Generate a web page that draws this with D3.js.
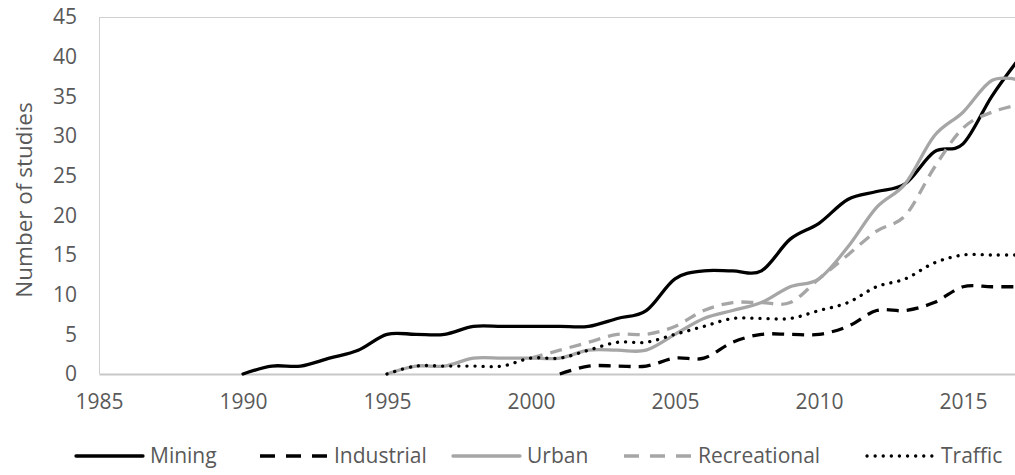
<!DOCTYPE html>
<html><head><meta charset="utf-8">
<script src="https://cdn.jsdelivr.net/npm/d3@7"></script>
<style>body{margin:0;background:#fff;}svg{display:block;font-family:"Open Sans",sans-serif;}</style>
</head><body><svg id="c" width="1015" height="475"></svg>
<script>
const years = d3.range(1990, 2018);
const mining       = [0,1,1,2,3,5,5,5,6,6,6,6,6,7,8,12,13,13,13,17,19,22,23,24,28,29,35,40];
const industrial   = [null,null,null,null,null,null,null,null,null,null,null,0,1,1,1,2,2,4,5,5,5,6,8,8,9,11,11,11];
const urban        = [null,null,null,null,null,0,1,1,2,2,2,2,3,3,3,5,7,8,9,11,12,16,21,24,30,33,37,37];
const recreational = [null,null,null,null,null,null,null,null,null,null,2,3,4,5,5,6,8,9,9,9,12,15,18,20,26,31,33,34];
const traffic      = [null,null,null,null,null,0,1,1,1,1,2,2,3,4,4,5,6,7,7,7,8,9,11,12,14,15,15,15];
const xTicks = [1985,1990,1995,2000,2005,2010,2015];
const yTicks = [0,5,10,15,20,25,30,35,40,45];
const seriesNames = ["Mining","Industrial","Urban","Recreational","Traffic"];
const seriesData = [mining, industrial, urban, recreational, traffic];

const styles = [
  {color:"#000000", dash:null, legDash:null, cap:"round"},
  {color:"#000000", dash:"12,8", legDash:"15,11", cap:"butt"},
  {color:"#a6a6a6", dash:null, legDash:null, cap:"round"},
  {color:"#a6a6a6", dash:"12,8", legDash:"15,11", cap:"butt"},
  {color:"#000000", dash:"0.1,8", legDash:"0.1,8", cap:"round"}
];

const svg = d3.select("#c");
const pLeft = 99, pTop = 17, pBottom = 374;
const x = d3.scaleLinear().domain([1985, 2017]).range([pLeft, pLeft + 32*28.8]);
const y = d3.scaleLinear().domain([0, 45]).range([pBottom, pTop]);
const textColor = "#595959";
const fs = 21;

// plot border
svg.append("line").attr("x1",pLeft+0.5).attr("x2",pLeft+0.5).attr("y1",pTop).attr("y2",pBottom).attr("stroke","#d0d0d0").attr("stroke-width",1);
svg.append("line").attr("x1",pLeft).attr("x2",1015).attr("y1",pTop+0.5).attr("y2",pTop+0.5).attr("stroke","#d0d0d0").attr("stroke-width",1);

// y axis
const yAxis = d3.axisLeft(y).tickValues(yTicks).tickSize(0).tickPadding(22);
const gy = svg.append("g").attr("transform",`translate(${pLeft},0)`).call(yAxis);
gy.select(".domain").remove();
gy.selectAll("text").attr("font-size",fs).attr("fill",textColor).attr("font-family","Open Sans");

// x axis
const xAxis = d3.axisBottom(x).tickValues(xTicks).tickSize(0).tickPadding(20).tickFormat(d3.format("d"));
const gx = svg.append("g").attr("transform",`translate(0,${pBottom})`).call(xAxis);
gx.select(".domain").attr("stroke","#c8c8c8").attr("stroke-width",2);
gx.selectAll("text").attr("font-size",fs).attr("fill",textColor).attr("font-family","Open Sans");

// y title
svg.append("text").attr("transform",`translate(31.5,200) rotate(-90)`)
  .attr("text-anchor","middle").attr("font-size",22.5).attr("fill",textColor).text("Number of studies");

// lines
const line = d3.line().defined(d => d.v !== null).x(d => x(d.yr)).y(d => y(d.v)).curve(d3.curveCardinal.tension(0));
seriesData.forEach((arr, i) => {
  const pts = years.map((yr, j) => ({yr, v: arr[j]}));
  const p = svg.append("path").datum(pts).attr("d", line)
    .attr("fill","none").attr("stroke",styles[i].color).attr("stroke-width",3.3)
    .attr("stroke-linecap",styles[i].cap).attr("stroke-linejoin","round");
  if (styles[i].dash) p.attr("stroke-dasharray", styles[i].dash);
});

// legend
const legTextX = [150, 334, 527, 698, 941];
const ly = 456, symLen = 67, symGap = 7;
seriesNames.forEach((name, i) => {
  const tx = legTextX[i];
  const l = svg.append("line").attr("x1", tx-symGap-symLen).attr("x2", tx-symGap).attr("y1", ly).attr("y2", ly)
    .attr("stroke", styles[i].color).attr("stroke-width", 3.3).attr("stroke-linecap", styles[i].cap);
  if (styles[i].legDash) l.attr("stroke-dasharray", styles[i].legDash);
  svg.append("text").attr("x", tx).attr("y", ly).attr("dy","0.35em").attr("font-size",fs)
    .attr("fill", textColor).text(name);
});
</script></body></html>
